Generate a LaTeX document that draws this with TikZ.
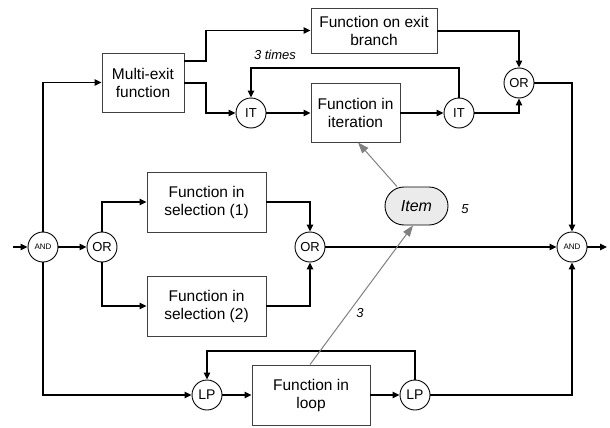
\documentclass[tikz,border=0pt]{standalone}
\usepackage{fontspec}
\setmainfont{Liberation Sans}
\usetikzlibrary{arrows.meta,calc}
\begin{document}
\begin{tikzpicture}[x=1pt,y=-1pt,
  fbox/.style={draw=black!75,line width=0.9pt,minimum width=#1,align=center,inner sep=0pt,font=\fontsize{15.5}{18}\selectfont},
  gate/.style={draw,circle,line width=0.9pt,minimum size=30pt,inner sep=0pt,font=\fontsize{13}{13}\selectfont},
  smallgate/.style={gate,font=\fontsize{8}{8}\selectfont},
  conn/.style={line width=1.3pt,-{Triangle[length=7pt,width=6.5pt]}},
  line/.style={line width=1.3pt},
  grayarr/.style={draw=black!50,line width=1pt,-{Triangle[length=11pt,width=8pt]}},
  lbl/.style={font=\fontsize{13}{13}\selectfont\itshape}]
\useasboundingbox (0,0) rectangle (610,428);
% boxes
\node[fbox=82pt,minimum height=59pt] (mx) at (143,82.5) {Multi-exit\\function};
\node[fbox=126pt,minimum height=45pt] (ex) at (374,30.5) {Function on exit\\branch};
\node[fbox=89pt,minimum height=59pt] (it) at (355.5,112.5) {Function in\\iteration};
\node[fbox=119pt,minimum height=60pt] (s1) at (206.5,202) {Function in\\selection (1)};
\node[fbox=119pt,minimum height=60pt] (s2) at (206.5,306) {Function in\\selection (2)};
\node[fbox=118pt,minimum height=60pt] (lp) at (311,395) {Function in\\loop};
\node[draw,fill=black!8,line width=0.9pt,rounded corners=19pt,minimum width=63pt,minimum height=38pt,inner sep=0pt,font=\fontsize{16}{16}\selectfont\itshape] (item) at (416.5,206) {Item};
% gates
\node[smallgate] (and1) at (43,247) {AND};
\node[gate] (or1) at (102,247) {OR};
\node[gate] (it1) at (251,113) {IT};
\node[gate] (it2) at (459,113) {IT};
\node[gate] (or2) at (519,83) {OR};
\node[gate] (or3) at (310,247) {OR};
\node[smallgate] (and2) at (572,247) {AND};
\node[gate,font=\fontsize{14}{14}\selectfont] (lp1) at (207,395) {LP};
\node[gate,font=\fontsize{14}{14}\selectfont] (lp2) at (415,395) {LP};
\coordinate (in) at (13,247);
\coordinate (out) at (607,247);
% labels
\node[lbl] (t3) at (275,55) {3 times};
\node[lbl] (t5) at (465,209) {5};
\node[lbl] (t3b) at (360,313) {3};
% connectors
\draw[conn] (in) -- (and1);
\draw[conn] (and1) -- (or1);
\draw[conn] (and1.north) |- (mx.west);
\draw[conn] (and1.south) |- (lp1.west);
\draw[conn] (mx.east |- 0,61) -- (206,61) |- (ex.west);
\draw[conn] (mx.east |- 0,83) -- (206,83) |- (it1.west);
\draw[conn] (it1) -- (it.west |- it1);
\draw[conn] (it.east |- it2) -- (it2);
\draw[conn] (it2.north) -- (it2 |- 0,68) -| (it1.north);
\draw[conn] (it2.east) -| (or2.south);
\draw[conn] (ex.east |- 0,31) -| (or2.north);
\draw[conn] (or2.east) -| (and2.north);
\draw[conn] (or1.north) |- (s1.west);
\draw[conn] (or1.south) |- (s2.west);
\draw[conn] (s1.east) -| (or3.north);
\draw[conn] (s2.east) -| (or3.south);
\draw[conn] (or3) -- (and2);
\draw[conn] (and2) -- (out);
\draw[conn] (lp1) -- (lp.west |- lp1);
\draw[conn] (lp.east |- lp2) -- (lp2);
\draw[conn] (lp2.north) -- (lp2 |- 0,351) -| (lp1.north);
\draw[conn] (lp2.east) -| (and2.south);
% gray arrows
\draw[grayarr] (lp.north -| 310,0) -- (item.south -| 413,0);
\draw[grayarr] (item.north -| 397,0) -- (it.south -| 358,0);
\end{tikzpicture}
\end{document}
